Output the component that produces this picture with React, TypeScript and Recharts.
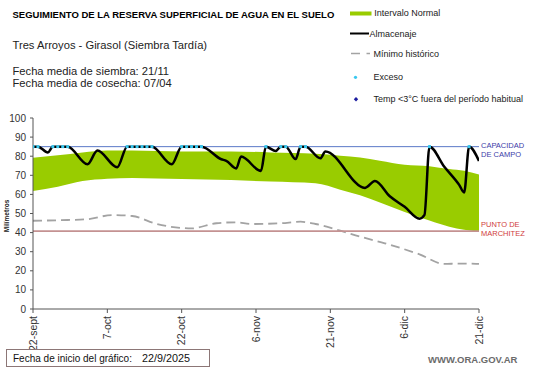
import React from "react";
import {
  ComposedChart,
  Area,
  Line,
  Scatter,
  XAxis,
  YAxis,
  ReferenceLine,
} from "recharts";

// ---- Data (day index from 22-sept-2025) ----
const tickDays = [0, 15, 30, 45, 60, 75, 90];
const tickLabels = ["22-sept", "7-oct", "22-oct", "6-nov", "21-nov", "6-dic", "21-dic"];
const yTicks = [0, 10, 20, 30, 40, 50, 60, 70, 80, 90, 100];

const almDays = [0, 1, 3, 4, 7, 11, 13, 17, 19, 24, 28, 30, 34, 38, 39, 41, 42, 46, 47, 49, 50, 51, 53, 54, 55, 58, 59, 67, 69, 72, 75, 78, 79, 80, 83, 86, 87, 88, 90];
const almVals = [85, 85, 82, 85, 85, 75.8, 83, 74.2, 85, 85, 75.8, 85, 85, 78.4, 77.6, 73.6, 79.8, 72.3, 85, 82.7, 85, 85, 78.5, 85, 85, 78.9, 82.5, 63.4, 67, 59, 53.5, 47.3, 49.3, 85, 74.5, 65, 61, 85, 77.5];

const bandDays = [0, 5, 10, 15, 20, 30, 40, 48, 57, 62, 66, 70, 75, 80, 84, 87, 90];
const bandLow = [61.8, 64, 67, 68.2, 68.6, 68, 67.5, 66.7, 65.8, 62.5, 59.6, 55.8, 50.8, 46.3, 43.1, 41.5, 40.5];
const bandHigh = [79.2, 80.5, 82, 83, 83, 82.5, 82.5, 82, 81.3, 80.3, 79.3, 77.6, 75.5, 74.8, 73.3, 72.4, 70.4];

const minDays = [0, 7, 11, 16, 20, 25, 32, 37, 41, 44, 50, 54, 57, 62, 66, 71, 78, 83, 86, 90];
const minVals = [46.2, 46.6, 47, 49.2, 48.7, 44.5, 42.2, 44.9, 45.4, 44.5, 44.9, 45.7, 44.5, 41, 37.9, 34.4, 28.6, 23.6, 23.8, 23.6];

const excesoDays = [0, 1, 4, 5, 6, 7, 19, 20, 21, 22, 23, 24, 30, 31, 32, 33, 34, 47, 50, 51, 54, 55, 80, 88];
const capacidad = 85;
const marchitez = 40.8;

// ---- Tables built from arrays ----
const almData = almDays.map((d, i) => ({ day: d, v: almVals[i] }));
const bandData = bandDays.map((d, i) => ({ day: d, range: [bandLow[i], bandHigh[i]] }));
const minData = minDays.map((d, i) => ({ day: d, v: minVals[i] }));
const excesoData = excesoDays.map((d) => ({ day: d, v: capacidad }));

const FONT = "'Liberation Sans', Arial, sans-serif";

const XTick = (props: any) => {
  const { x, y, payload } = props;
  const idx = tickDays.indexOf(payload.value);
  return (
    <g transform={`translate(${x},${y + 1})`}>
      <text
        transform="rotate(-90)"
        textAnchor="end"
        x={0}
        y={0}
        dy={3.7}
        fontSize={10.5}
        fontFamily={FONT}
        fill="#333"
      >
        {idx >= 0 ? tickLabels[idx] : ""}
      </text>
    </g>
  );
};

const ExcesoDot = (props: any) => {
  const { cx, cy } = props;
  return <rect x={cx - 1.5} y={cy - 1.5} width={3} height={3} fill="#38c8f0" />;
};

export default function App() {
  return (
    <div
      style={{
        position: "absolute",
        left: 0,
        top: 0,
        width: 541,
        height: 368,
        background: "#fff",
        overflow: "hidden",
      }}
    >
      <ComposedChart
        width={541}
        height={368}
        margin={{ top: 118, right: 62, bottom: 9, left: 3 }}
      >
        <XAxis
          dataKey="day"
          type="number"
          domain={[0, 90]}
          ticks={tickDays}
          interval={0}
          tick={<XTick />}
          tickSize={4}
          height={50}
          stroke="#555"
          allowDataOverflow
        />
        <YAxis
          type="number"
          domain={[0, 100]}
          ticks={yTicks}
          interval={0}
          width={30}
          tickSize={3}
          tickMargin={4}
          stroke="#555"
          tick={{ fontSize: 10, fontFamily: FONT, fill: "#333" }}
        />
        <Area
          data={bandData}
          dataKey="range"
          type="monotone"
          fill="#99cc00"
          fillOpacity={1}
          stroke="none"
          isAnimationActive={false}
        />
        <Line
          data={minData}
          dataKey="v"
          type="monotone"
          stroke="#a3a3a3"
          strokeWidth={1.8}
          strokeDasharray="9 5"
          dot={false}
          isAnimationActive={false}
        />
        <ReferenceLine y={capacidad} stroke="#5a78c8" strokeWidth={1} />
        <ReferenceLine y={marchitez} stroke="#c49292" strokeWidth={1.8} />
        <Line
          data={almData}
          dataKey="v"
          type="monotone"
          stroke="#000"
          strokeWidth={2.5}
          dot={false}
          isAnimationActive={false}
        />
        <Scatter
          data={excesoData}
          dataKey="v"
          shape={<ExcesoDot />}
          isAnimationActive={false}
        />
      </ComposedChart>

      <svg
        width={541}
        height={368}
        style={{ position: "absolute", left: 0, top: 0, pointerEvents: "none" }}
        fontFamily={FONT}
      >
        <text x={12.5} y={17.5} fontSize={9.5} fontWeight="bold" fill="#000">
          SEGUIMIENTO DE LA RESERVA  SUPERFICIAL DE AGUA EN EL SUELO
        </text>
        <text x={12.5} y={49} fontSize={11.2} fill="#222">
          Tres Arroyos - Girasol (Siembra Tardía)
        </text>
        <text x={12.5} y={74.5} fontSize={11.2} fill="#222">
          Fecha media de siembra: 21/11
        </text>
        <text x={12.5} y={86.5} fontSize={11.2} fill="#222">
          Fecha media de cosecha: 07/04
        </text>

        {/* Legend */}
        <rect x={350} y={11.5} width={21.5} height={4} fill="#99cc00" />
        <text x={374.3} y={15.8} fontSize={9} fill="#222">Intervalo Normal</text>
        <line x1={350} y1={33.5} x2={369} y2={33.5} stroke="#000" strokeWidth={2} />
        <text x={369.5} y={36.8} fontSize={9} fill="#222">Almacenaje</text>
        <line x1={351} y1={53.5} x2={360} y2={53.5} stroke="#a3a3a3" strokeWidth={1.5} />
        <line x1={366.5} y1={53.5} x2={370} y2={53.5} stroke="#a3a3a3" strokeWidth={1.5} />
        <text x={373.5} y={56.8} fontSize={9} fill="#222">Mínimo histórico</text>
        <circle cx={355.5} cy={77.3} r={1.6} fill="#38c8f0" />
        <text x={373.5} y={80.2} fontSize={9} fill="#222">Exceso</text>
        <path d="M356 97 L358.2 99.3 L356 101.6 L353.8 99.3 Z" fill="#1e1ea0" />
        <text x={373.5} y={102.2} fontSize={9} fill="#222">
          Temp &lt;3°C fuera del período habitual
        </text>

        {/* Y axis title */}
        <text
          transform="translate(9,216) rotate(-90)"
          textAnchor="middle"
          fontSize={6.5}
          fontWeight="bold"
          fill="#222"
        >
          Milímetros
        </text>

        {/* Right labels */}
        <text x={481} y={147.7} fontSize={7.5} fill="#3c3ca8">CAPACIDAD</text>
        <text x={481} y={156.7} fontSize={7.5} fill="#3c3ca8">DE  CAMPO</text>
        <text x={481} y={227.2} fontSize={7.5} fill="#d03c3c">PUNTO  DE</text>
        <text x={481} y={235.9} fontSize={7.5} fill="#d03c3c">MARCHITEZ</text>

        {/* Bottom */}
        <rect x={6.5} y={349.5} width={203} height={17} fill="#fff" stroke="#8c7676" strokeWidth={1} />
        <text x={13} y={362} fontSize={10} fill="#111">
          Fecha de inicio del gráfico:
        </text>
        <text x={142} y={362} fontSize={10.8} fill="#111">
          22/9/2025
        </text>
        <text x={428} y={363.3} fontSize={9.5} fontWeight="bold" fill="#6b6b6b">
          WWW.ORA.GOV.AR
        </text>
      </svg>
    </div>
  );
}
